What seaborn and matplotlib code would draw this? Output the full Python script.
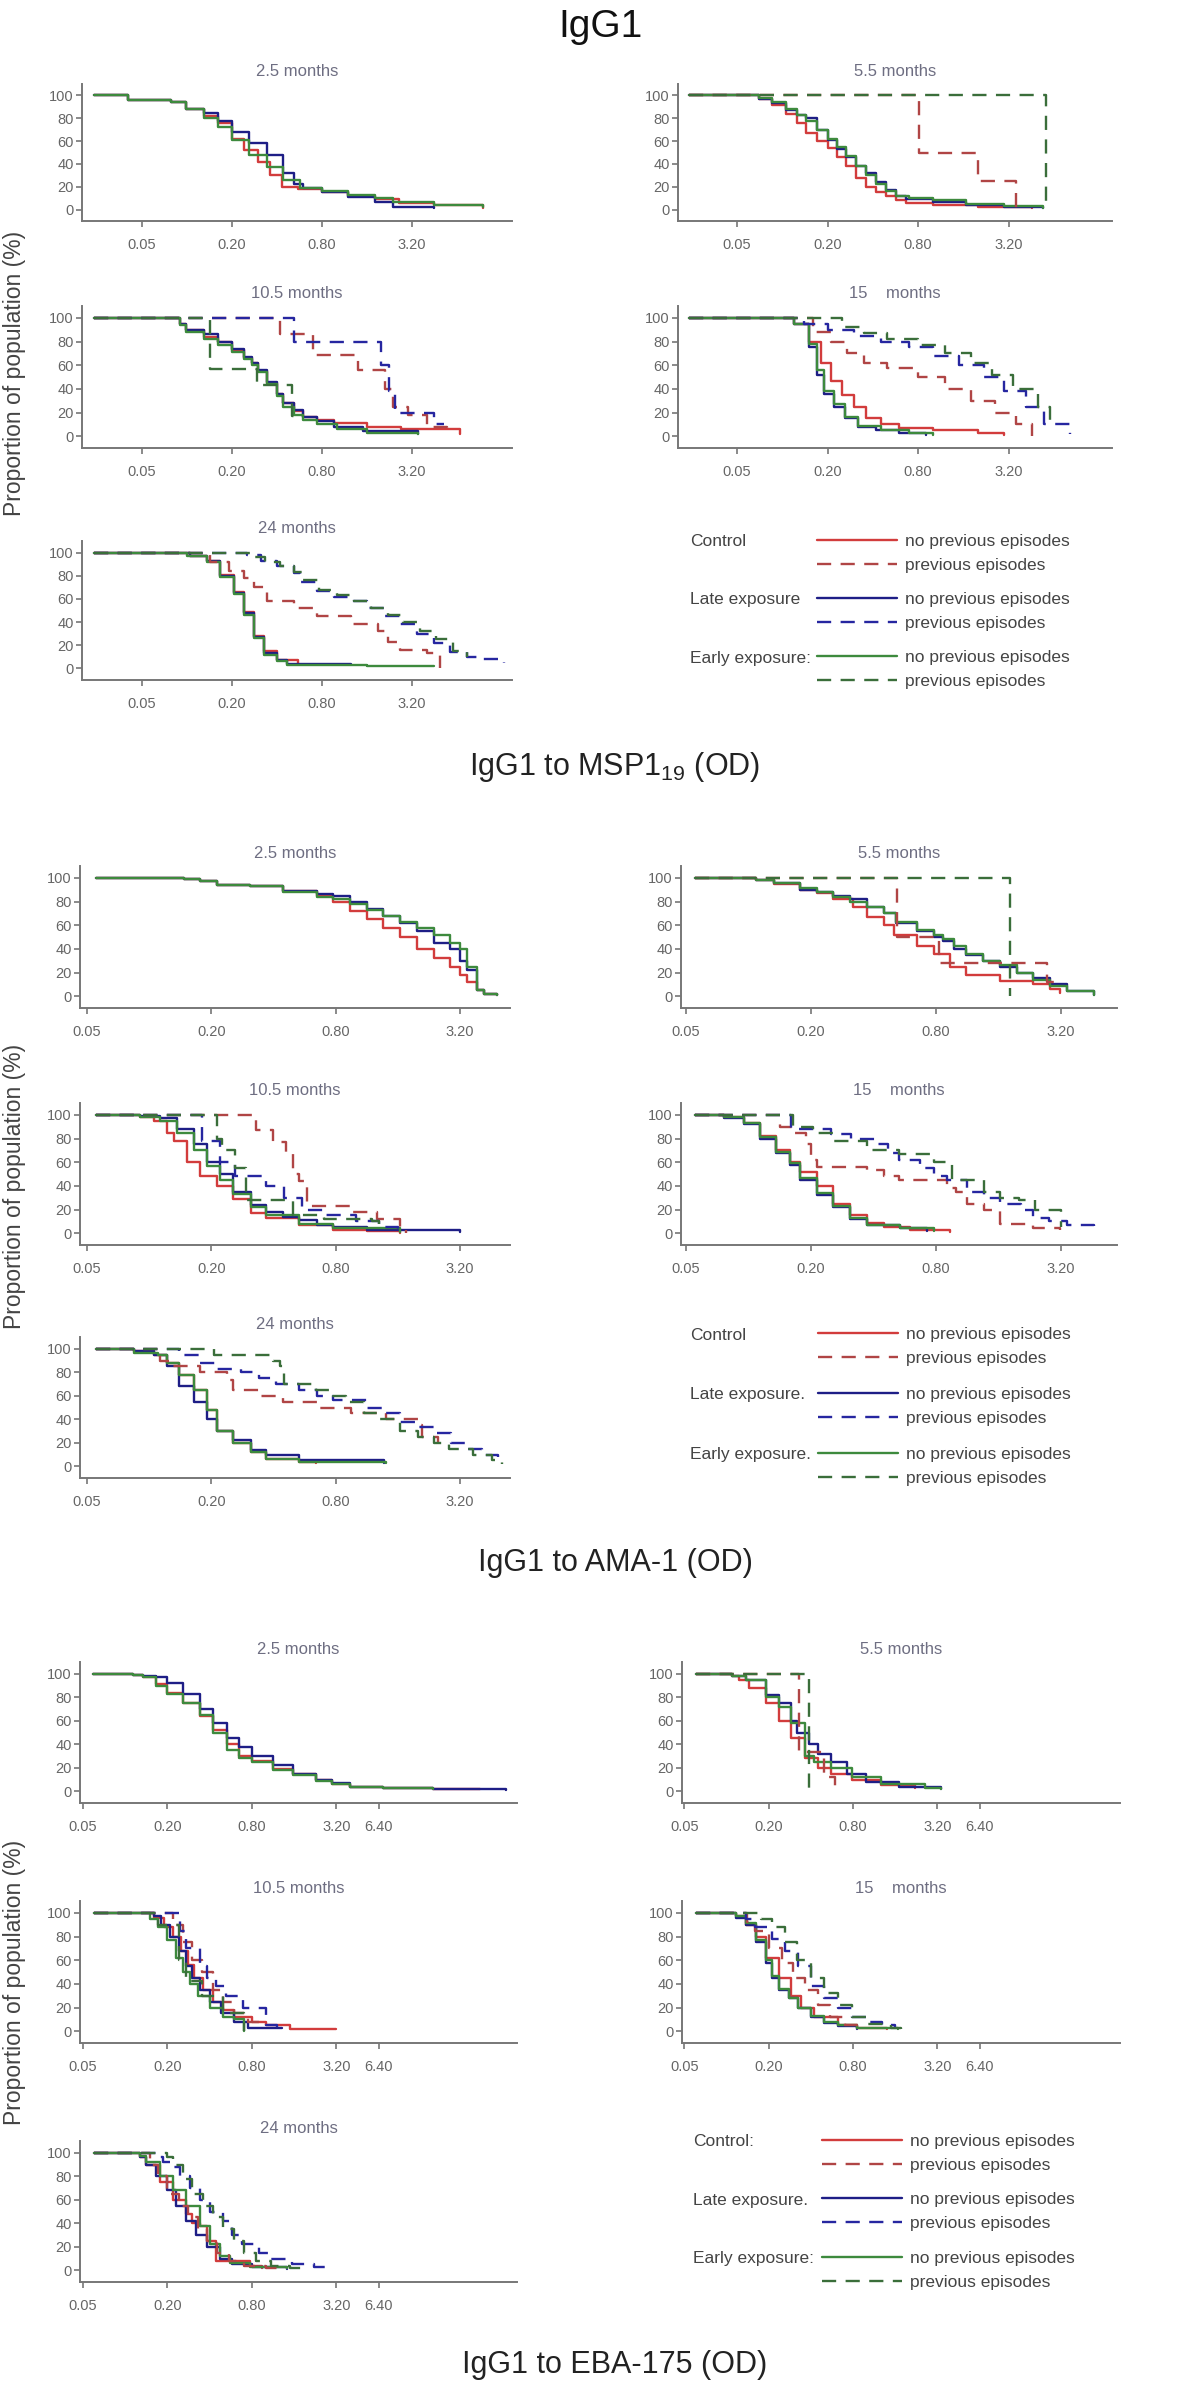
"""
IgG1 reverse cumulative distribution curves (MSP1-19, AMA-1, EBA-175)
"""

import matplotlib
matplotlib.use("Agg")
import matplotlib.pyplot as plt
from matplotlib.lines import Line2D
from matplotlib.ticker import FixedLocator, NullLocator, FixedFormatter
import seaborn as sns

# =====================================================================
# DATA - OD value where each step starts, % of population with OD >= x
# keys: ctrl/late/early + _no (no previous episodes) / _prev (previous)
# =====================================================================
msp_2_5 = {
    "ctrl_no": ([0.024, 0.040, 0.078, 0.098, 0.13, 0.16, 0.20, 0.24, 0.30, 0.36, 0.43, 0.55, 0.80, 1.2, 1.8, 2.6, 4.5, 9.5],
                [100, 96, 94, 88, 82, 76, 62, 52, 42, 30, 20, 18, 15, 12, 9, 6, 4, 1]),
    "late_no": ([0.024, 0.040, 0.078, 0.098, 0.13, 0.16, 0.20, 0.26, 0.34, 0.44, 0.52, 0.60, 0.80, 1.2, 1.8, 2.4, 4.5],
                [100, 96, 94, 88, 85, 78, 68, 58, 48, 32, 22, 19, 15, 11, 7, 2, 1]),
    "early_no": ([0.024, 0.040, 0.078, 0.098, 0.13, 0.16, 0.20, 0.26, 0.34, 0.44, 0.57, 0.80, 1.2, 1.8, 2.4, 4.5, 9.6],
                 [100, 96, 94, 88, 80, 72, 61, 48, 37, 26, 19, 16, 13, 10, 7, 4, 2]),
}
msp_5_5 = {
    "ctrl_no": ([0.024, 0.07, 0.085, 0.106, 0.125, 0.144, 0.17, 0.20, 0.23, 0.266, 0.31, 0.361, 0.42, 0.489, 0.57, 0.666, 1.0, 2.0, 4.6],
                [100, 97, 92, 84, 76, 67, 60, 54, 46, 38, 28, 20, 15, 12, 8, 6, 4, 2, 1]),
    "late_no": ([0.024, 0.07, 0.085, 0.106, 0.125, 0.144, 0.17, 0.20, 0.23, 0.266, 0.31, 0.361, 0.42, 0.489, 0.57, 0.666, 1.0, 1.67, 3.0, 5.4],
                [100, 97, 93, 87, 83, 80, 70, 61, 53, 46, 38, 32, 24, 17, 12, 9, 7, 4, 2, 1]),
    "early_no": ([0.024, 0.07, 0.085, 0.106, 0.125, 0.144, 0.17, 0.20, 0.23, 0.266, 0.31, 0.361, 0.42, 0.489, 0.57, 0.70, 1.0, 1.67, 3.0, 5.4],
                 [100, 98, 94, 88, 83, 78, 70, 62, 55, 47, 38, 30, 22, 16, 12, 10, 8, 5, 3, 1]),
    "ctrl_prev": ([0.024, 0.816, 1.99, 3.58], [100, 50, 25, 0]),
    "early_prev": ([0.024, 5.66], [100, 0]),
}
msp_10_5 = {
    "ctrl_no": ([0.024, 0.09, 0.098, 0.13, 0.16, 0.20, 0.24, 0.27, 0.30, 0.34, 0.40, 0.44, 0.52, 0.60, 0.74, 0.96, 1.6, 2.7, 6.7],
                [100, 95, 90, 84, 80, 73, 66, 62, 55, 45, 36, 28, 21, 16, 14, 11, 8, 6, 2]),
    "late_no": ([0.024, 0.09, 0.098, 0.13, 0.16, 0.20, 0.24, 0.27, 0.30, 0.34, 0.40, 0.44, 0.52, 0.60, 0.74, 0.96, 1.5, 3.5],
                [100, 95, 90, 86, 80, 74, 67, 62, 56, 46, 36, 28, 22, 16, 13, 8, 4, 2]),
    "early_no": ([0.024, 0.09, 0.098, 0.13, 0.16, 0.20, 0.24, 0.27, 0.30, 0.34, 0.40, 0.44, 0.52, 0.60, 0.74, 1.0, 1.6, 3.5],
                 [100, 94, 88, 82, 77, 71, 65, 60, 54, 44, 34, 25, 18, 14, 10, 6, 3, 2]),
    "ctrl_prev": ([0.024, 0.42, 0.70, 1.40, 2.10, 2.40, 3.00, 4.00, 5.50],
                  [100, 86, 69, 56, 40, 25, 18, 8, 2]),
    "late_prev": ([0.024, 0.517, 1.97, 2.25, 2.45, 3.4, 4.5, 5.2],
                  [100, 80, 60, 38, 20, 20, 10, 10]),
    "early_prev": ([0.024, 0.143, 0.294, 0.50, 0.60], [100, 57, 43, 17, 17]),
}
msp_15 = {
    "ctrl_no": ([0.024, 0.12, 0.15, 0.18, 0.21, 0.25, 0.30, 0.36, 0.45, 0.60, 1.0, 2.0, 3.0],
                [100, 95, 80, 62, 47, 35, 25, 15, 10, 7, 5, 3, 1]),
    "late_no": ([0.024, 0.12, 0.15, 0.17, 0.19, 0.22, 0.26, 0.32, 0.42, 0.60, 0.90],
                [100, 95, 75, 52, 36, 25, 15, 8, 5, 3, 1]),
    "early_no": ([0.024, 0.12, 0.15, 0.17, 0.19, 0.22, 0.26, 0.32, 0.45, 0.70, 1.0],
                 [100, 95, 78, 56, 38, 27, 16, 9, 5, 3, 1]),
    "ctrl_prev": ([0.024, 0.16, 0.21, 0.27, 0.35, 0.50, 0.80, 1.2, 1.8, 2.6, 3.6, 4.6],
                  [100, 88, 80, 70, 62, 58, 50, 40, 30, 20, 10, 0]),
    "late_prev": ([0.024, 0.14, 0.20, 0.30, 0.45, 0.70, 1.0, 1.5, 2.2, 3.0, 4.2, 5.5, 8.2],
                  [100, 95, 90, 85, 80, 75, 68, 60, 50, 38, 25, 10, 2]),
    "early_prev": ([0.024, 0.20, 0.25, 0.35, 0.50, 0.80, 1.2, 1.8, 2.5, 3.4, 5.0, 6.0],
                   [100, 100, 92, 87, 82, 77, 70, 62, 52, 40, 25, 10]),
}
msp_24 = {
    "ctrl_no": ([0.024, 0.105, 0.136, 0.167, 0.205, 0.24, 0.279, 0.325, 0.40, 0.55],
                [100, 97, 93, 81, 66, 49, 28, 15, 7, 4]),
    "late_no": ([0.024, 0.105, 0.136, 0.167, 0.205, 0.24, 0.279, 0.325, 0.40, 0.466, 1.24],
                [100, 97, 93, 80, 65, 48, 27, 13, 7, 4, 4]),
    "early_no": ([0.024, 0.100, 0.136, 0.167, 0.205, 0.24, 0.279, 0.325, 0.40, 0.466, 1.6, 4.47],
                 [100, 97, 92, 79, 64, 46, 26, 12, 6, 3, 2, 2]),
    "ctrl_prev": ([0.024, 0.143, 0.19, 0.24, 0.279, 0.343, 0.517, 0.74, 1.24, 1.9, 2.2, 2.67, 4.0, 4.95],
                  [100, 92, 84, 78, 70, 58, 52, 45, 38, 32, 23, 16, 13, 0]),
    "late_prev": ([0.024, 0.25, 0.31, 0.40, 0.517, 0.573, 0.74, 0.96, 1.24, 1.6, 2.07, 2.67, 3.46, 4.47, 5.77, 7.45, 9.6, 13.1],
                  [100, 98, 93, 88, 82, 75, 67, 62, 58, 52, 45, 38, 30, 22, 14, 10, 8, 5]),
    "early_prev": ([0.024, 0.14, 0.27, 0.33, 0.42, 0.52, 0.60, 0.76, 1.0, 1.3, 1.7, 2.2, 2.8, 3.6, 4.6, 6.0, 7.5],
                   [100, 100, 96, 92, 88, 83, 76, 68, 63, 58, 52, 46, 40, 32, 25, 15, 10]),
}

ama_2_5 = {
    "ctrl_no": ([0.055, 0.147, 0.177, 0.213, 0.309, 0.447, 0.65, 0.78, 0.94, 1.13, 1.36, 1.64, 1.98, 2.39, 2.87, 3.2, 3.46, 3.86, 4.2, 4.85],
                [100, 99, 97, 94, 93, 89, 85, 80, 72, 65, 58, 50, 40, 32, 25, 18, 12, 5, 2, 1]),
    "late_no": ([0.055, 0.147, 0.177, 0.213, 0.309, 0.447, 0.65, 0.78, 0.94, 1.13, 1.36, 1.64, 1.98, 2.39, 2.87, 3.2, 3.46, 3.86, 4.2, 4.85],
                [100, 99, 97, 94, 93, 89, 86, 85, 80, 74, 68, 62, 55, 45, 40, 30, 22, 5, 2, 1]),
    "early_no": ([0.055, 0.147, 0.177, 0.213, 0.309, 0.447, 0.65, 0.78, 0.94, 1.13, 1.36, 1.64, 1.98, 2.39, 2.87, 3.2, 3.46, 3.86, 4.2, 4.85],
                 [100, 99, 97, 94, 93, 88, 84, 82, 78, 73, 68, 63, 58, 52, 45, 40, 25, 5, 2, 1]),
}
ama_5_5 = {
    "ctrl_no": ([0.055, 0.109, 0.132, 0.177, 0.213, 0.256, 0.32, 0.37, 0.447, 0.50, 0.65, 0.78, 0.93, 1.12, 1.63, 2.35, 2.83, 3.16],
                [100, 98, 95, 90, 87, 82, 75, 67, 60, 52, 42, 36, 25, 18, 13, 10, 6, 3]),
    "late_no": ([0.055, 0.109, 0.132, 0.177, 0.213, 0.256, 0.308, 0.37, 0.447, 0.51, 0.65, 0.78, 0.86, 0.97, 1.12, 1.35, 1.63, 1.96, 2.35, 2.83, 3.4, 4.6],
                [100, 98, 96, 90, 88, 85, 82, 75, 70, 62, 55, 50, 47, 40, 35, 30, 25, 20, 15, 10, 4, 1]),
    "early_no": ([0.055, 0.109, 0.132, 0.177, 0.213, 0.256, 0.308, 0.37, 0.447, 0.51, 0.65, 0.78, 0.86, 0.97, 1.12, 1.35, 1.63, 1.96, 2.35, 2.83, 3.4, 4.6],
                 [100, 98, 96, 91, 88, 84, 80, 75, 70, 63, 56, 52, 48, 42, 36, 30, 26, 20, 14, 9, 4, 1]),
    "ctrl_prev": ([0.055, 0.516, 0.83, 2.73, 3.2], [100, 50, 28, 12, 12]),
    "early_prev": ([0.055, 1.82], [100, 0]),
}
ama_10_5 = {
    "ctrl_no": ([0.055, 0.09, 0.105, 0.122, 0.132, 0.153, 0.177, 0.213, 0.256, 0.31, 0.37, 0.53, 0.78, 1.13, 1.65],
                [100, 98, 95, 85, 78, 60, 48, 40, 29, 17, 13, 7, 3, 2, 0]),
    "late_no": ([0.055, 0.09, 0.113, 0.136, 0.165, 0.19, 0.221, 0.256, 0.31, 0.37, 0.447, 0.53, 0.65, 0.78, 1.13, 3.2],
                [100, 99, 97, 88, 75, 60, 50, 35, 24, 18, 14, 11, 7, 5, 3, 1]),
    "early_no": ([0.055, 0.09, 0.113, 0.136, 0.165, 0.19, 0.221, 0.256, 0.31, 0.37, 0.53, 0.78, 1.65],
                 [100, 98, 95, 85, 70, 57, 45, 33, 22, 15, 8, 4, 1]),
    "ctrl_prev": ([0.055, 0.33, 0.40, 0.46, 0.50, 0.53, 0.58, 0.94, 1.27, 1.65, 1.75],
                  [100, 87, 77, 67, 50, 44, 23, 18, 12, 5, 0]),
    "late_prev": ([0.055, 0.18, 0.22, 0.26, 0.37, 0.45, 0.55, 0.70, 1.0, 1.3, 1.6],
                  [100, 78, 60, 48, 40, 30, 20, 15, 10, 5, 2]),
    "early_prev": ([0.055, 0.213, 0.225, 0.26, 0.295, 0.50, 0.70, 1.2, 1.3],
                   [100, 80, 70, 55, 28, 15, 12, 10, 0]),
}
ama_15 = {
    "ctrl_no": ([0.055, 0.076, 0.095, 0.113, 0.136, 0.158, 0.177, 0.213, 0.256, 0.308, 0.37, 0.45, 0.60, 0.93],
                [100, 98, 93, 82, 70, 60, 52, 40, 25, 15, 9, 5, 3, 1]),
    "late_no": ([0.055, 0.076, 0.095, 0.113, 0.136, 0.158, 0.177, 0.213, 0.256, 0.308, 0.37, 0.536, 0.72],
                [100, 97, 92, 80, 68, 58, 45, 32, 22, 12, 7, 4, 2]),
    "early_no": ([0.055, 0.076, 0.095, 0.113, 0.136, 0.158, 0.177, 0.213, 0.256, 0.308, 0.37, 0.536, 0.78],
                 [100, 98, 93, 81, 69, 59, 47, 34, 23, 13, 7, 4, 2]),
    "ctrl_prev": ([0.055, 0.141, 0.164, 0.19, 0.20, 0.213, 0.37, 0.447, 0.53, 0.90, 1.0, 1.13, 1.36, 1.63, 2.35, 3.15],
                  [100, 90, 85, 75, 62, 56, 53, 48, 45, 38, 35, 25, 20, 8, 4, 3]),
    "late_prev": ([0.055, 0.16, 0.25, 0.31, 0.41, 0.47, 0.53, 0.67, 0.78, 0.90, 1.13, 1.36, 1.63, 2.04, 2.35, 2.8, 3.4, 4.6],
                  [100, 88, 84, 80, 75, 68, 62, 55, 48, 45, 35, 30, 25, 20, 13, 10, 7, 3]),
    "early_prev": ([0.055, 0.164, 0.205, 0.256, 0.37, 0.53, 0.78, 0.95, 1.36, 1.63, 2.0, 2.4, 3.2],
                   [100, 90, 85, 78, 70, 67, 60, 45, 35, 30, 28, 20, 5]),
}
ama_24 = {
    "ctrl_no": ([0.055, 0.084, 0.105, 0.122, 0.14, 0.164, 0.19, 0.213, 0.256, 0.31, 0.37, 0.53, 0.64],
                [100, 98, 95, 88, 78, 65, 48, 30, 20, 12, 6, 4, 3]),
    "late_no": ([0.055, 0.084, 0.105, 0.122, 0.14, 0.164, 0.19, 0.213, 0.256, 0.31, 0.37, 0.53, 1.37],
                [100, 98, 95, 85, 68, 55, 40, 30, 22, 14, 10, 5, 3]),
    "early_no": ([0.055, 0.084, 0.11, 0.122, 0.14, 0.164, 0.19, 0.213, 0.256, 0.31, 0.37, 0.53, 1.4],
                 [100, 96, 95, 88, 78, 65, 48, 30, 20, 12, 6, 4, 3]),
    "ctrl_prev": ([0.055, 0.113, 0.131, 0.177, 0.237, 0.256, 0.34, 0.447, 0.65, 0.95, 1.4, 2.0, 2.1, 2.5],
                  [100, 90, 85, 80, 73, 65, 60, 55, 50, 45, 40, 35, 25, 20]),
    "late_prev": ([0.055, 0.14, 0.177, 0.213, 0.28, 0.34, 0.41, 0.53, 0.65, 0.78, 1.13, 1.37, 1.64, 2.0, 2.45, 2.9, 3.4, 4.1, 4.9],
                  [100, 95, 88, 83, 80, 75, 70, 65, 60, 56, 50, 45, 38, 33, 28, 20, 15, 10, 5]),
    "early_prev": ([0.055, 0.205, 0.40, 0.43, 0.45, 0.64, 0.78, 0.90, 1.1, 1.3, 1.64, 2.0, 2.4, 2.85, 3.7, 4.6, 5.1],
                   [100, 95, 90, 85, 70, 65, 60, 55, 45, 40, 30, 25, 20, 15, 10, 5, 2]),
}

eba_2_5 = {
    "ctrl_no": ([0.059, 0.114, 0.134, 0.167, 0.20, 0.258, 0.34, 0.42, 0.53, 0.65, 0.80, 1.13, 1.57, 2.3, 3.0, 4.0, 6.9, 15.6, 34],
                [100, 99, 97, 91, 84, 75, 64, 52, 40, 30, 26, 19, 15, 10, 6, 4, 3, 2, 2]),
    "late_no": ([0.059, 0.114, 0.134, 0.167, 0.20, 0.258, 0.34, 0.42, 0.53, 0.65, 0.80, 1.13, 1.57, 2.3, 3.0, 4.0, 6.9, 15.6, 52],
                [100, 99, 98, 97, 92, 83, 70, 58, 45, 38, 30, 22, 15, 10, 7, 4, 3, 2, 1]),
    "early_no": ([0.059, 0.114, 0.134, 0.167, 0.20, 0.258, 0.34, 0.42, 0.53, 0.65, 0.80, 1.13, 1.57, 2.3, 3.0, 4.0, 6.9, 15.6],
                 [100, 99, 97, 90, 83, 75, 65, 50, 35, 28, 25, 18, 14, 9, 6, 4, 3, 2]),
}
eba_5_5 = {
    "ctrl_no": ([0.06, 0.11, 0.122, 0.144, 0.19, 0.235, 0.29, 0.363, 0.45, 0.56, 0.78, 1.27, 2.2],
                [100, 98, 95, 88, 75, 60, 45, 28, 20, 15, 10, 5, 3]),
    "late_no": ([0.06, 0.11, 0.137, 0.19, 0.235, 0.29, 0.32, 0.385, 0.45, 0.56, 0.72, 0.99, 1.71, 3.4],
                [100, 98, 95, 82, 75, 60, 50, 40, 32, 25, 15, 8, 4, 2]),
    "early_no": ([0.06, 0.11, 0.137, 0.19, 0.235, 0.29, 0.363, 0.42, 0.56, 0.78, 1.27, 2.6, 3.4],
                 [100, 98, 95, 80, 72, 58, 30, 25, 20, 12, 6, 3, 2]),
    "ctrl_prev": ([0.06, 0.33, 0.50, 0.59], [100, 33, 12, 0]),
    "early_prev": ([0.06, 0.385], [100, 0]),
}
eba_10_5 = {
    "ctrl_no": ([0.06, 0.16, 0.19, 0.22, 0.25, 0.28, 0.31, 0.36, 0.42, 0.50, 0.60, 0.80, 1.0, 1.5, 3.2],
                [100, 96, 88, 80, 68, 56, 45, 35, 25, 18, 12, 8, 5, 2, 2]),
    "late_no": ([0.06, 0.16, 0.18, 0.21, 0.24, 0.27, 0.30, 0.34, 0.40, 0.48, 0.60, 0.75, 1.3],
                [100, 97, 90, 80, 68, 55, 45, 35, 25, 15, 8, 3, 3]),
    "early_no": ([0.06, 0.15, 0.17, 0.20, 0.23, 0.26, 0.29, 0.33, 0.40, 0.50, 0.60, 0.70],
                 [100, 95, 88, 77, 62, 50, 40, 30, 20, 12, 10, 0]),
    "ctrl_prev": ([0.06, 0.22, 0.26, 0.30, 0.35, 0.42, 0.50, 0.60, 0.75, 0.90],
                  [100, 90, 75, 60, 50, 35, 25, 15, 8, 3]),
    "late_prev": ([0.06, 0.245, 0.27, 0.34, 0.38, 0.44, 0.52, 0.69, 1.0, 1.2],
                  [100, 85, 70, 55, 45, 38, 30, 20, 5, 3]),
    "early_prev": ([0.06, 0.17, 0.24, 0.27, 0.35, 0.50, 0.70], [100, 90, 60, 42, 30, 15, 0]),
}
eba_15 = {
    "ctrl_no": ([0.06, 0.116, 0.137, 0.161, 0.19, 0.235, 0.29, 0.34, 0.42, 0.62, 0.85, 1.4],
                [100, 97, 90, 80, 62, 45, 30, 20, 12, 5, 3, 2]),
    "late_no": ([0.06, 0.116, 0.137, 0.161, 0.19, 0.21, 0.235, 0.28, 0.326, 0.40, 0.50, 0.62, 0.85],
                [100, 96, 90, 75, 58, 45, 35, 28, 20, 12, 7, 4, 2]),
    "early_no": ([0.06, 0.116, 0.137, 0.161, 0.19, 0.21, 0.235, 0.28, 0.326, 0.40, 0.50, 0.62, 0.85, 1.67],
                 [100, 97, 91, 77, 60, 47, 36, 28, 20, 13, 8, 5, 3, 2]),
    "ctrl_prev": ([0.06, 0.14, 0.16, 0.20, 0.25, 0.30, 0.36, 0.45, 0.55, 0.70, 0.90],
                  [100, 92, 85, 70, 58, 45, 35, 22, 12, 5, 2]),
    "late_prev": ([0.06, 0.137, 0.16, 0.21, 0.26, 0.326, 0.40, 0.50, 0.62, 0.78, 1.0, 1.28, 1.6],
                  [100, 95, 88, 78, 68, 55, 38, 28, 20, 12, 8, 5, 2]),
    "early_prev": ([0.06, 0.175, 0.21, 0.26, 0.32, 0.40, 0.50, 0.62, 0.78, 1.0, 1.5, 1.75],
                   [100, 95, 88, 75, 60, 45, 32, 22, 12, 6, 3, 2]),
}
eba_24 = {
    "ctrl_no": ([0.06, 0.127, 0.141, 0.176, 0.22, 0.27, 0.30, 0.34, 0.38, 0.44, 0.77, 0.95],
                [100, 96, 90, 75, 60, 48, 40, 38, 25, 8, 4, 2]),
    "late_no": ([0.06, 0.127, 0.141, 0.167, 0.20, 0.23, 0.27, 0.32, 0.38, 0.47, 0.58, 0.80, 1.43],
                [100, 96, 90, 80, 68, 55, 42, 30, 20, 10, 5, 3, 1]),
    "early_no": ([0.06, 0.127, 0.141, 0.176, 0.22, 0.27, 0.34, 0.40, 0.47, 0.56, 0.77, 1.43],
                 [100, 97, 92, 80, 68, 55, 38, 22, 12, 6, 3, 2]),
    "ctrl_prev": ([0.06, 0.15, 0.17, 0.20, 0.24, 0.28, 0.33, 0.38, 0.45, 0.55, 0.70, 1.0, 1.4],
                  [100, 90, 80, 65, 55, 45, 35, 25, 15, 8, 4, 2, 2]),
    "late_prev": ([0.06, 0.167, 0.185, 0.21, 0.245, 0.29, 0.34, 0.40, 0.50, 0.58, 0.68, 0.90, 1.1, 1.55, 2.2, 2.7],
                  [100, 96, 92, 88, 80, 70, 60, 50, 42, 30, 22, 15, 10, 5, 3, 2]),
    "early_prev": ([0.06, 0.20, 0.22, 0.26, 0.30, 0.36, 0.42, 0.50, 0.60, 0.70, 0.85, 1.1, 1.5, 2.0],
                   [100, 96, 90, 78, 65, 55, 45, 35, 25, 15, 8, 4, 2, 2]),
}

PANEL_TITLES = ["2.5 months", "5.5 months", "10.5 months", "15    months", "24 months"]
TICKS_3 = [0.05, 0.20, 0.80, 3.20]
TICKS_4 = [0.05, 0.20, 0.80, 3.20, 6.40]
GROUP_TITLES = ["IgG1 to MSP1$\\mathregular{_{19}}$ (OD)", "IgG1 to AMA-1 (OD)", "IgG1 to EBA-175 (OD)"]
GROUP_LABELS = [["Control", "Late exposure", "Early exposure:"],
                ["Control", "Late exposure.", "Early exposure."],
                ["Control:", "Late exposure.", "Early exposure:"]]

# =====================================================================
# STYLE
# =====================================================================
STYLE = {
    "ctrl_no": ("#d23c3c", "-"),
    "late_no": ("#1e1e86", "-"),
    "early_no": ("#3d8a3d", "-"),
    "ctrl_prev": ("#b04545", (0, (6, 4))),
    "late_prev": ("#2626a0", (0, (6, 4))),
    "early_prev": ("#3a6e3a", (0, (6, 4))),
}
AX_COLOR = "#777777"
TICK_COLOR = "#666666"
TITLE_COLOR = "#6e6e82"

sns.set_style("ticks")
plt.rcParams["font.family"] = ["Liberation Sans", "DejaVu Sans"]

W, H = 1200, 2386
fig = plt.figure(figsize=(W / 100, H / 100), dpi=100)


def px_box(x0, top, x1, bottom):
    return [x0 / W, 1 - bottom / H, (x1 - x0) / W, (bottom - top) / H]


def draw_panel(box, xlim, ticks, title, curves):
    ax = fig.add_axes(px_box(*box))
    ax.set_xscale("log", base=2)
    for key in ["ctrl_no", "late_no", "early_no", "ctrl_prev", "late_prev", "early_prev"]:
        if key not in curves:
            continue
        xs, ys = curves[key]
        color, ls = STYLE[key]
        sns.lineplot(x=xs, y=ys, ax=ax, color=color, linestyle=ls, linewidth=1.7,
                     drawstyle="steps-post", estimator=None, sort=False)
    ax.set_xlim(*xlim)
    ax.set_ylim(-10, 110)
    ax.xaxis.set_major_locator(FixedLocator(ticks))
    ax.xaxis.set_major_formatter(FixedFormatter([f"{t:.2f}" for t in ticks]))
    ax.xaxis.set_minor_locator(NullLocator())
    ax.set_yticks([0, 20, 40, 60, 80, 100])
    ax.set_xlabel("")
    ax.set_ylabel("")
    sns.despine(ax=ax)
    for s in ["left", "bottom"]:
        ax.spines[s].set_color(AX_COLOR)
        ax.spines[s].set_linewidth(1.4)
    ax.tick_params(axis="both", colors=AX_COLOR, labelcolor=TICK_COLOR, labelsize=10.5,
                   length=4, width=1.2)
    ax.tick_params(axis="x", pad=8)
    ax.tick_params(axis="y", pad=2)
    ax.set_title(title, color=TITLE_COLOR, fontsize=12, pad=6)
    return ax


# =====================================================================
# LAYOUT (pixels)
# =====================================================================
groups = [
    dict(panels=[msp_2_5, msp_5_5, msp_10_5, msp_15, msp_24],
         rows=[(84, 221), (306, 448), (541, 680)],
         left=(82, 512), right=(678, 1112),
         xlim_l=(0.0198, 14.9), xlim_r=(0.0202, 15.6), ticks=TICKS_3,
         leg_x=690, leg_line=817, leg_rows=[542, 600, 658],
         title_y=767, ylab_y=373),
    dict(panels=[ama_2_5, ama_5_5, ama_10_5, ama_15, ama_24],
         rows=[(866, 1008), (1103, 1245), (1337, 1478)],
         left=(80, 510), right=(681, 1117),
         xlim_l=(0.0462, 5.6), xlim_r=(0.0473, 5.94), ticks=TICKS_3,
         leg_x=690, leg_line=818, leg_rows=[1335, 1395, 1455],
         title_y=1563, ylab_y=1186),
    dict(panels=[eba_2_5, eba_5_5, eba_10_5, eba_15, eba_24],
         rows=[(1662, 1803), (1901, 2043), (2141, 2282)],
         left=(80, 517), right=(682, 1120),
         xlim_l=(0.0476, 62), xlim_r=(0.048, 64.5), ticks=TICKS_4,
         leg_x=693, leg_line=822, leg_rows=[2142, 2200, 2259],
         title_y=2365, ylab_y=1982),
]

LEG_FS = 12.5
leg_px = LEG_FS * 100 / 72

for g_i, g in enumerate(groups):
    for p_i, curves in enumerate(g["panels"]):
        r, c = divmod(p_i, 2)
        top, bottom = g["rows"][r]
        x0, x1 = g["left"] if c == 0 else g["right"]
        xlim = g["xlim_l"] if c == 0 else g["xlim_r"]
        draw_panel((x0, top, x1, bottom), xlim, g["ticks"], PANEL_TITLES[p_i], curves)

    # legend block, one small legend per group of subjects
    for k, (grp, row_y) in enumerate(zip(["ctrl", "late", "early"], g["leg_rows"])):
        handles = []
        for suffix in ["_no", "_prev"]:
            color, ls = STYLE[grp + suffix]
            handles.append(Line2D([], [], color=color, linestyle=ls, linewidth=1.7))
        labels = ["no previous episodes", "previous episodes"]
        fig.legend(handles, labels, loc="upper left",
                   bbox_to_anchor=(g["leg_line"] / W, 1 - (row_y - 8) / H),
                   frameon=False, fontsize=LEG_FS, handlelength=80 / leg_px,
                   handletextpad=0.45, labelspacing=0.52, borderpad=0,
                   borderaxespad=0, labelcolor="#444444")
        fig.text(g["leg_x"] / W, 1 - row_y / H, GROUP_LABELS[g_i][k], fontsize=LEG_FS,
                 color="#444444", ha="left", va="center")

    fig.text(615 / W, 1 - g["title_y"] / H, GROUP_TITLES[g_i], fontsize=22,
             color="#222222", ha="center", va="center")
    fig.text(15 / W, 1 - g["ylab_y"] / H, "Proportion of population (%)", fontsize=16.5,
             color="#444444", rotation=90, ha="center", va="center")

fig.text(600 / W, 1 - 27 / H, "IgG1", fontsize=28, color="#111111", ha="center", va="center")

plt.savefig("out.png", dpi=100)
print("Saved out.png")
